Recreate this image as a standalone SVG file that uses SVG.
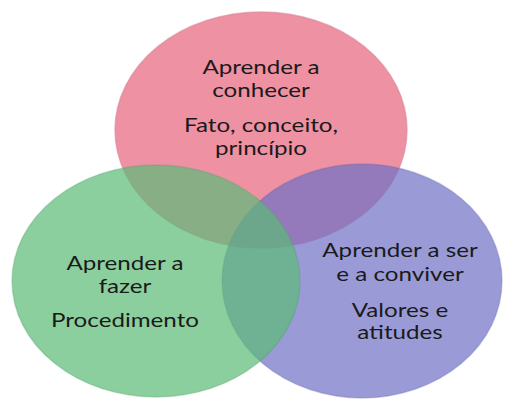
<svg xmlns="http://www.w3.org/2000/svg" width="505" height="400" viewBox="0 0 505 400">
  <style>
    .lbl { font-family: Lato, "Open Sans", "Liberation Sans", sans-serif; font-size: 19.5px; fill: #1a1a1a; text-anchor: middle; }
    .edge { stroke-width: 1.5; }
  </style>
  <rect x="0" y="0" width="505" height="400" fill="#ffffff"/>
  <g id="node-conhecer">
    <ellipse cx="261" cy="130" rx="146" ry="118" fill="#ee91a3" stroke="#d98596" stroke-opacity="0.6" class="edge"/>
    <text class="lbl" transform="translate(261,74) scale(1.24,1)">Aprender a</text>
    <text class="lbl" transform="translate(261,97) scale(1.24,1)">conhecer</text>
    <text class="lbl" transform="translate(261,132) scale(1.24,1)">Fato, conceito,</text>
    <text class="lbl" transform="translate(261,155) scale(1.24,1)">princípio</text>
  </g>
  <g id="node-ser">
    <ellipse cx="362" cy="281" rx="140" ry="117" fill="#6f70c4" fill-opacity="0.7" stroke="#5f60a8" stroke-opacity="0.3" class="edge"/>
    <text class="lbl" transform="translate(400,257) scale(1.24,1)">Aprender a ser</text>
    <text class="lbl" transform="translate(400,281) scale(1.24,1)">e a conviver</text>
    <text class="lbl" transform="translate(400,317) scale(1.24,1)">Valores e</text>
    <text class="lbl" transform="translate(400,339) scale(1.24,1)">atitudes</text>
  </g>
  <g id="node-fazer">
    <ellipse cx="156" cy="281" rx="144" ry="116" fill="#5bba76" fill-opacity="0.7" stroke="#4f9e66" stroke-opacity="0.3" class="edge"/>
    <text class="lbl" transform="translate(125,270) scale(1.24,1)">Aprender a</text>
    <text class="lbl" transform="translate(125,293) scale(1.24,1)">fazer</text>
    <text class="lbl" transform="translate(125,327) scale(1.24,1)">Procedimento</text>
  </g>
</svg>
